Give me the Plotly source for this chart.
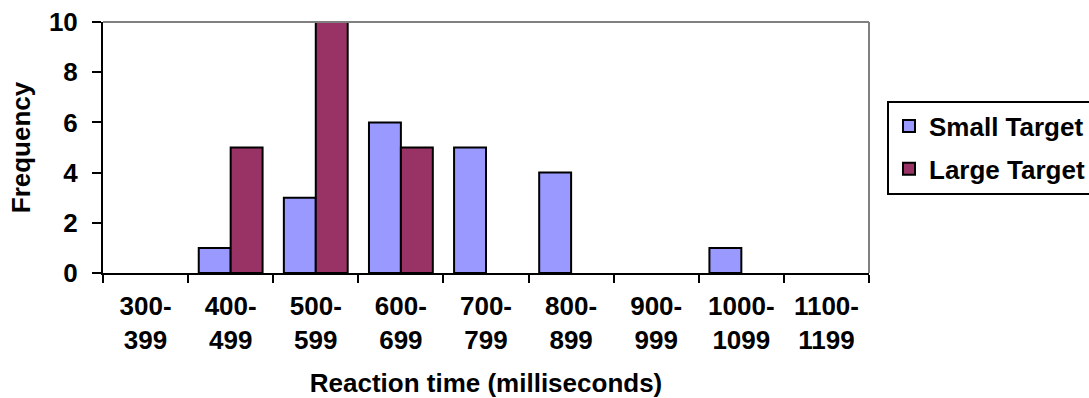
import plotly.graph_objects as go

categories = ["300-<br>399", "400-<br>499", "500-<br>599", "600-<br>699", "700-<br>799",
              "800-<br>899", "900-<br>999", "1000-<br>1099", "1100-<br>1199"]
small_target = [0, 1, 3, 6, 5, 4, 0, 1, 0]
large_target = [0, 5, 10, 5, 0, 0, 0, 0, 0]
y_ticks = [0, 2, 4, 6, 8, 10]

FONT = "Liberation Sans, Arial, sans-serif"
fs = 26


def visible(vals):
    # empty classes draw no bar (no outline on the axis)
    return [v if v > 0 else None for v in vals]


fig = go.Figure()
fig.add_trace(go.Bar(x=categories, y=visible(small_target), name="Small Target",
                     marker=dict(color="#9999FF", line=dict(color="black", width=2)),
                     legendgroup="s", hoverinfo="skip"))
fig.add_trace(go.Bar(x=categories, y=visible(large_target), name="Large Target",
                     marker=dict(color="#993366", line=dict(color="black", width=2)),
                     legendgroup="l", hoverinfo="skip"))

fig.update_layout(
    width=1089, height=398,
    margin=dict(l=103, r=220, t=22, b=125, autoexpand=False),
    paper_bgcolor="white", plot_bgcolor="white",
    barmode="group", bargap=0.25, bargroupgap=0,
    font=dict(family=FONT, size=fs, color="black", weight="bold"),
    legend=dict(x=1.0235, y=0.5, xanchor="left", yanchor="middle",
                bordercolor="black", borderwidth=2, traceorder="grouped",
                tracegroupgap=6, font=dict(family=FONT, size=fs, weight="bold")),
    shapes=[
        dict(type="line", xref="paper", yref="paper", x0=0, x1=1, y0=1, y1=1,
             line=dict(color="#808080", width=2)),
        dict(type="line", xref="paper", yref="paper", x0=1, x1=1, y0=0, y1=1,
             line=dict(color="#808080", width=2)),
    ],
)
fig.update_xaxes(
    type="category", categoryorder="array", categoryarray=categories,
    tickson="boundaries", ticks="outside", ticklen=8,
    tickwidth=2, tickcolor="black", showline=True, linecolor="black", linewidth=2,
    showgrid=False, ticklabelstandoff=9, automargin=False, layer="above traces",
    title=dict(text="Reaction time (milliseconds)", standoff=26,
               font=dict(family=FONT, size=fs, weight="bold")),
)
fig.update_yaxes(
    range=[0, 10], tickvals=y_ticks, ticks="outside", ticklen=9, tickwidth=2,
    tickcolor="black", showline=True, linecolor="black", linewidth=2,
    showgrid=False, zeroline=False, ticklabelstandoff=9, automargin=False,
    layer="above traces",
    title=dict(text="Frequency", standoff=11,
               font=dict(family=FONT, size=fs, weight="bold")),
)

fig.write_html("out.html", config={"displayModeBar": False},
               post_script="document.body.style.margin='0';document.body.style.padding='0';")
